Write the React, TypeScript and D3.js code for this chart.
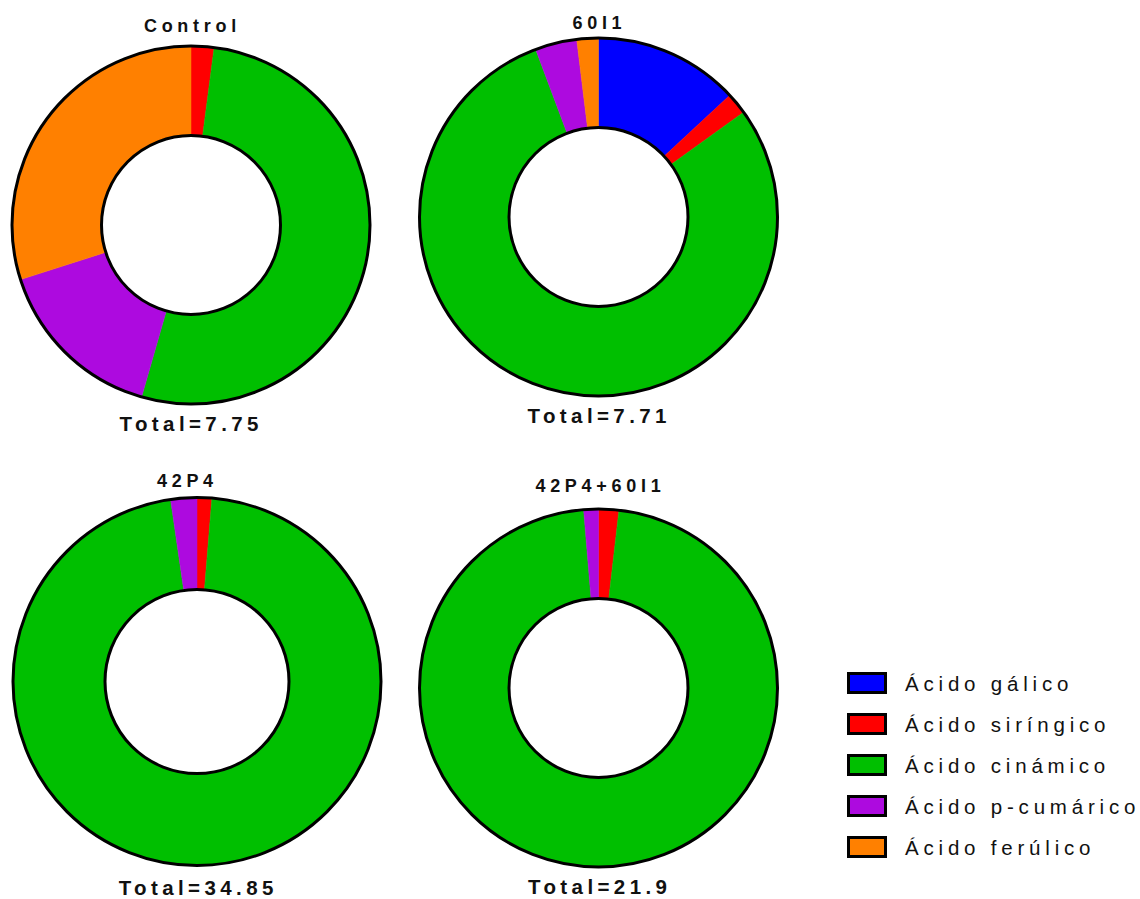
import React from "react";
import * as d3 from "d3";

const groups = ["Control", "60I1", "42P4", "42P4+60I1"];
const totals = [7.75, 7.71, 34.85, 21.9];
const compounds = ["Ácido gálico", "Ácido siríngico", "Ácido cinámico", "Ácido p-cumárico", "Ácido ferúlico"];
const colors = ["#0000FF", "#FF0000", "#00BF00", "#AD0ADF", "#FF8000"];

// concentration of each compound per group (same order as groups)
const galico = [0, 1.01, 0, 0];
const siringico = [0.16, 0.15, 0.45, 0.4];
const cinamico = [4.06, 6.11, 33.6, 21.21];
const pCumarico = [1.21, 0.29, 0.8, 0.29];
const ferulico = [2.32, 0.15, 0, 0];

const series = [galico, siringico, cinamico, pCumarico, ferulico];

// layout of each panel
const layout = [
  { cx: 191, cy: 225, r: 179, tx: 190, ty: 32, totY: 431, totX: 189 },
  { cx: 598.5, cy: 217, r: 179, tx: 597, ty: 29, totY: 423, totX: 597 },
  { cx: 197, cy: 681.5, r: 184, tx: 185, ty: 487, totY: 895, totX: 196 },
  { cx: 598.5, cy: 688, r: 179, tx: 598, ty: 492, totY: 894, totX: 597.5 },
];

const FONT = "'Liberation Sans', Arial, sans-serif";

export default function App() {
  const pie = d3
    .pie<number>()
    .sort(null)
    .value((d) => d)
    .startAngle(0)
    .endAngle(2 * Math.PI);

  return (
    <svg
      width={1140}
      height={899}
      style={{ position: "absolute", left: 0, top: 0, background: "#fff" }}
    >
      {groups.map((g, gi) => {
        const L = layout[gi];
        const vals = series.map((s) => s[gi]);
        const arcs = pie(vals);
        const inner = L.r * 0.5;
        const arc = d3.arc<d3.PieArcDatum<number>>().innerRadius(inner).outerRadius(L.r);
        return (
          <g key={g}>
            <g transform={`translate(${L.cx},${L.cy})`}>
              {arcs.map((a, i) =>
                a.value > 0 ? (
                  <path key={i} d={arc(a) || ""} fill={colors[i]} stroke={colors[i]} strokeWidth={0.5} />
                ) : null
              )}
              <circle r={L.r} fill="none" stroke="#000" strokeWidth={3} />
              <circle r={inner} fill="#fff" stroke="#000" strokeWidth={3} />
            </g>
            <text
              x={L.tx}
              y={L.ty}
              dx={2.4}
              textAnchor="middle"
              fontFamily={FONT}
              fontWeight="bold"
              fontSize={18}
              letterSpacing={4.7}
              fill="#111"
            >
              {g}
            </text>
            <text
              x={L.totX}
              y={L.totY}
              dx={2.2}
              textAnchor="middle"
              fontFamily={FONT}
              fontWeight="bold"
              fontSize={20.5}
              letterSpacing={4.4}
              fill="#111"
            >
              {`Total=${totals[gi]}`}
            </text>
          </g>
        );
      })}
      <g>
        {compounds.map((c, i) => {
          const y = 683 + i * 41;
          return (
            <g key={c}>
              <rect x={848.5} y={y - 9.5} width={37} height={19} fill={colors[i]} stroke="#000" strokeWidth={3} />
              <text
                x={905}
                y={y + 8}
                fontFamily={FONT}
                fontSize={20.5}
                letterSpacing={4.8}
                fill="#111"
              >
                {c}
              </text>
            </g>
          );
        })}
      </g>
    </svg>
  );
}
